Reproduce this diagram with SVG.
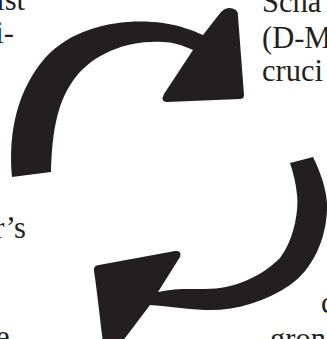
<svg xmlns="http://www.w3.org/2000/svg" width="327" height="339" viewBox="0 0 327 339">
<style>
.arrow{fill:#231f20;stroke:none}
.t{font-family:"Liberation Serif","Times New Roman",serif;font-size:30.5px;fill:#231f20}
</style>
<rect width="327" height="339" fill="#ffffff"/>
<g id="text">
<text class="t" x="25" y="10" text-anchor="end">ist</text>
<text class="t" x="14" y="43" text-anchor="end">i-</text>
<text class="t" x="26" y="238" text-anchor="end">r’s</text>
<text class="t" x="-4" y="347">e</text>
<text class="t" x="262" y="12">Scha</text>
<text class="t" x="262" y="48">(D-M</text>
<text class="t" x="262" y="81">cruci</text>
<text class="t" x="321" y="313">c</text>
<text class="t" x="270" y="349">gron</text>
</g>
<g id="connectors">
<path id="arrow-top" class="arrow" d="M 12,177 C 8,130 18,90 45,58 C 75,25 125,18 163,23 C 178,25 192,30 203,35 L 221,12 Q 228,5 236,10 Q 238,12 238,16 L 244,95 Q 244,99 240,99 L 167,102 Q 160,102 164,94 L 193,50 C 182,45 172,42 163,42 C 130,40 95,52 75,78 C 58,100 52,130 51,172 Z"/>
<path id="arrow-bottom" class="arrow" d="M 290,163 L 313,157 C 322,175 328,195 327,210 C 326,240 312,270 290,285 C 265,302 235,311 205,310 C 185,309 165,306 150,305 L 116,350 L 104,350 C 100,320 97,290 94,271 Q 93,266 99,265 L 175,251 Q 182,250 180,257 L 158,292 C 175,288 190,289 205,289 C 235,289 262,276 280,258 C 294,240 299,210 297,195 C 296,183 293,172 290,163 Z"/>
</g>
</svg>
